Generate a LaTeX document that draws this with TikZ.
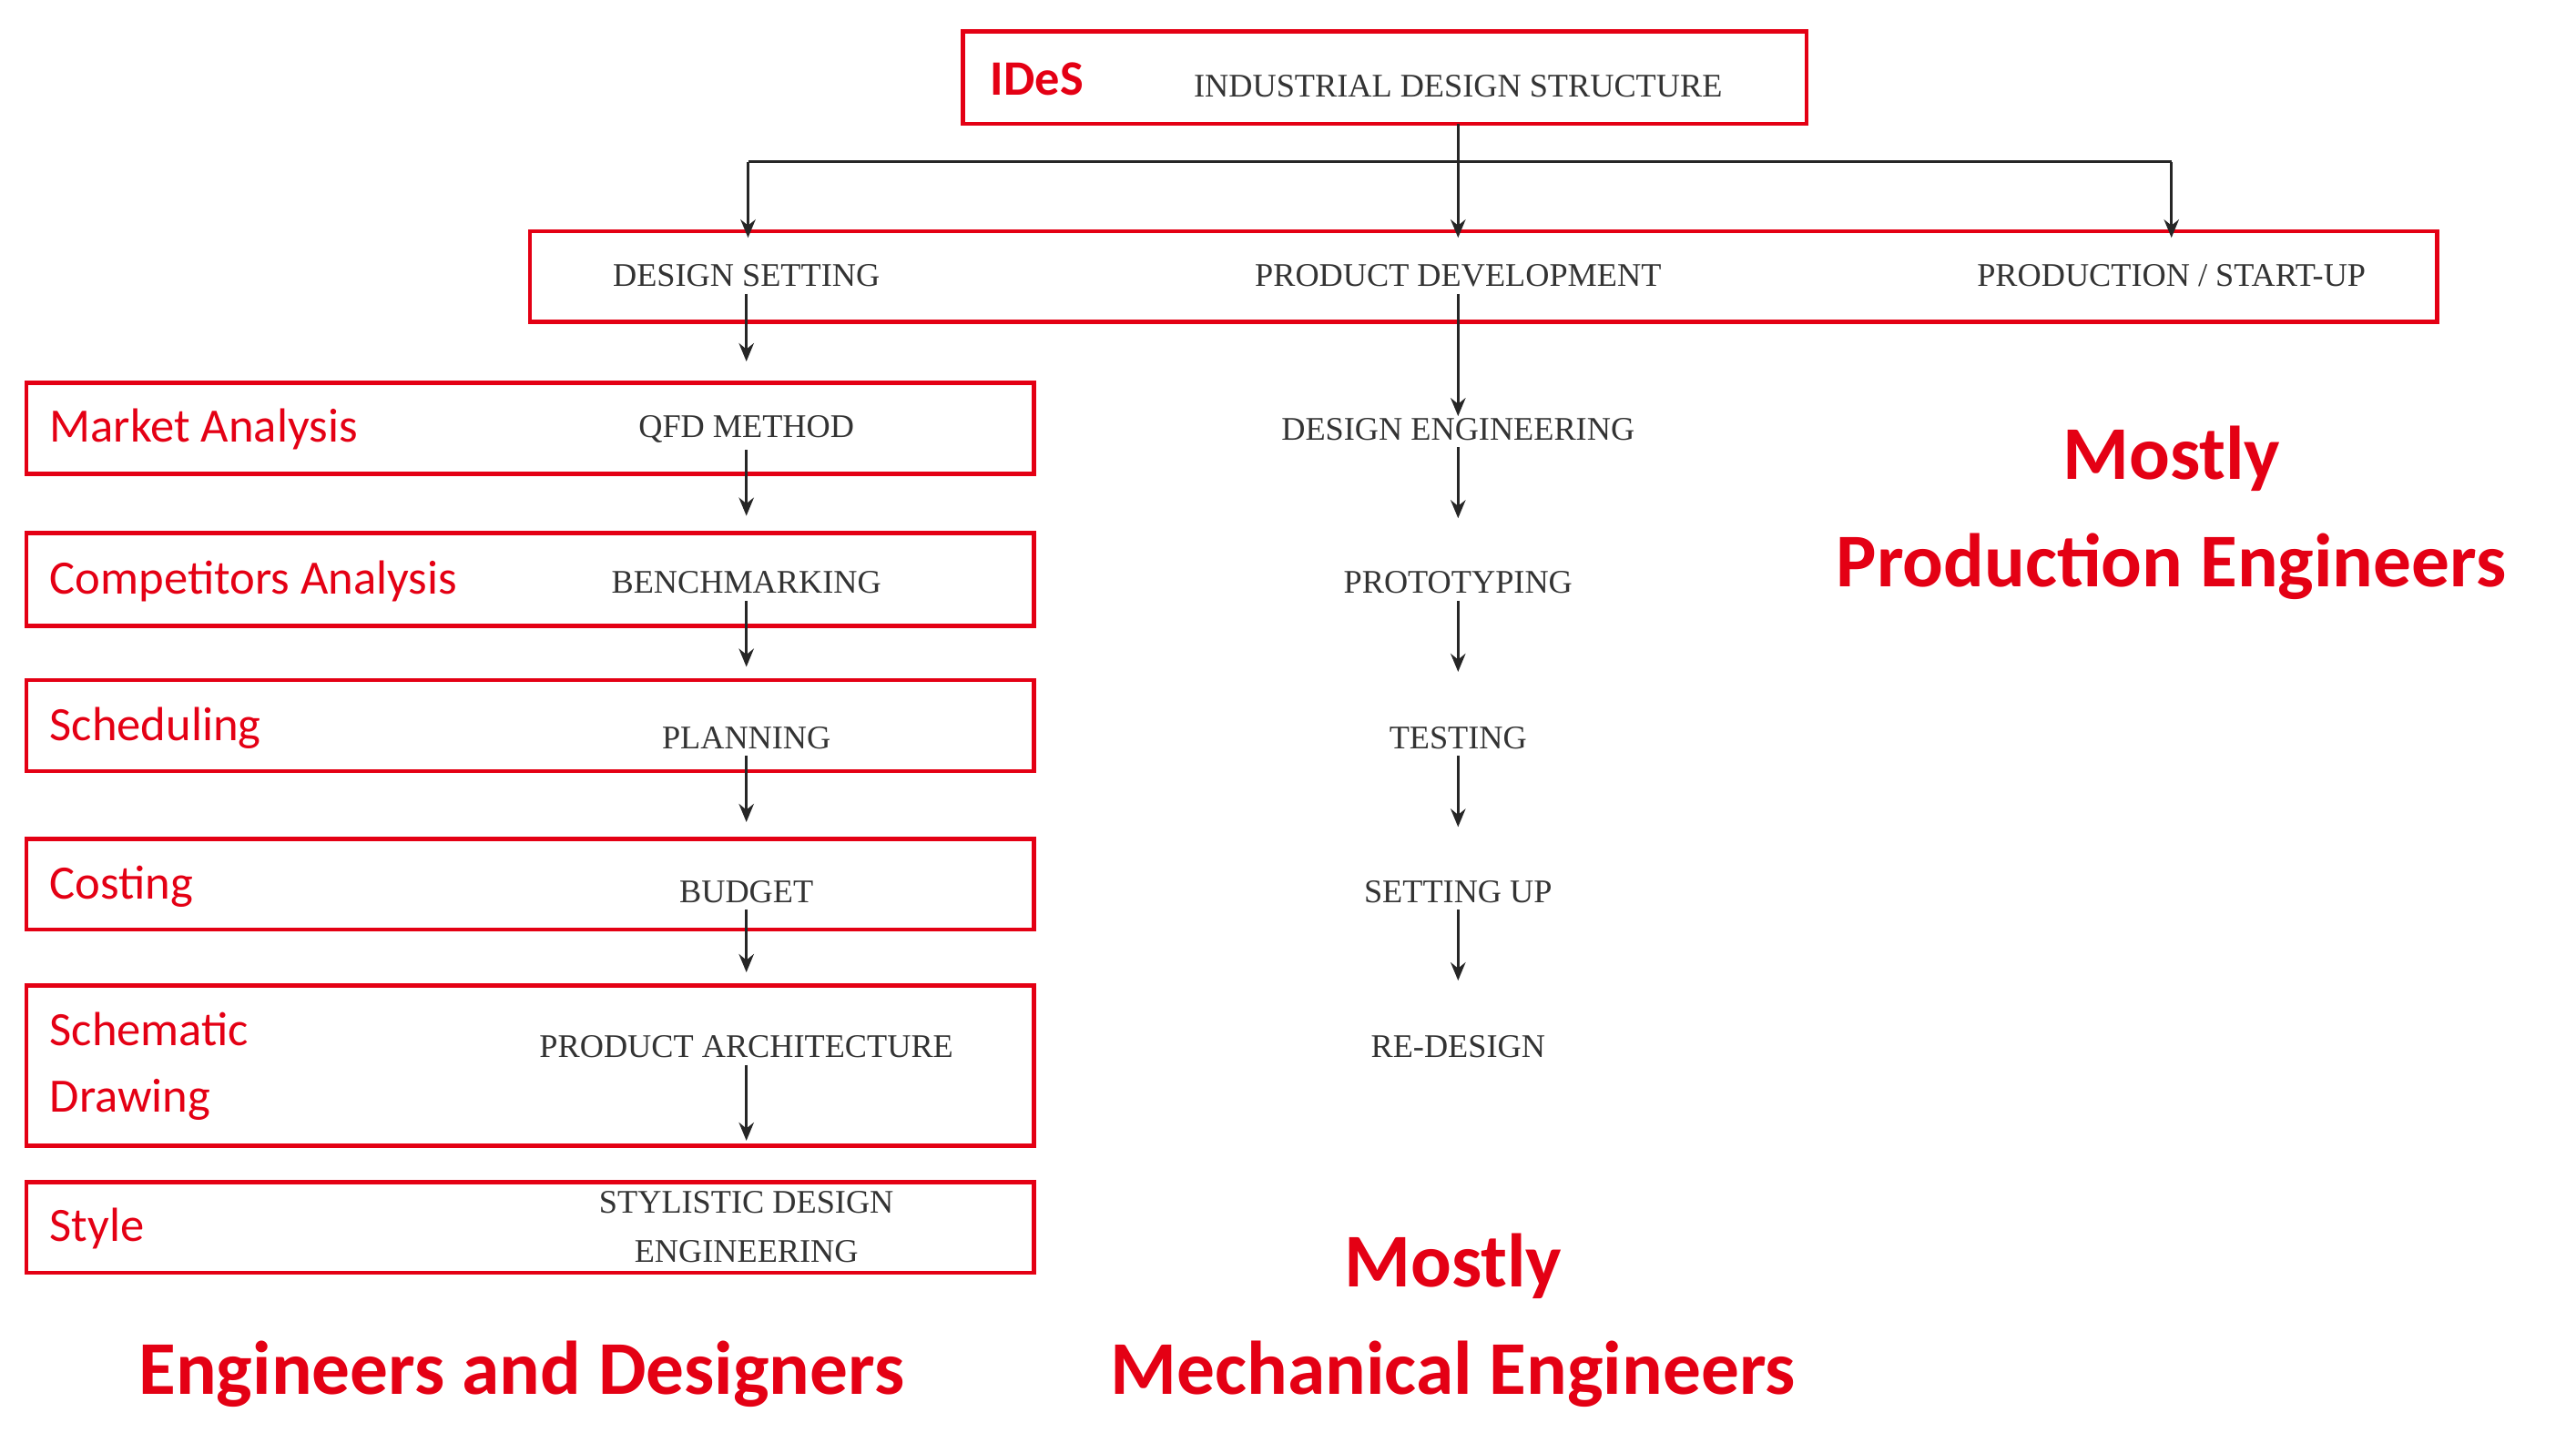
\documentclass[tikz,border=0pt]{standalone}
\usepackage{fontspec}
\setmainfont{Liberation Serif}
\newfontfamily\calfont{Carlito}
\usetikzlibrary{arrows.meta}
\definecolor{rd}{RGB}{228,0,20}
\tikzset{
 rbox/.style={draw=rd,line width=2.5pt},
 captxt/.style={font=\fontsize{20}{23}\selectfont,text=black!80,inner sep=1pt,align=center},
 lab/.style={font=\calfont\fontsize{29}{40}\selectfont,text=rd,anchor=west,inner sep=0pt,align=left},
 big/.style={font=\calfont\bfseries\fontsize{46}{50}\selectfont,text=rd,inner sep=0pt,draw=none},
 arr/.style={-{Stealth[length=11pt,width=9pt]},line width=1.8pt,black!85},
 ln/.style={line width=1.8pt,black!85}
}
\begin{document}
\begin{tikzpicture}[x=1pt,y=-1pt]
\useasboundingbox (0,0) rectangle (1560,873.5);
% top
\draw[rbox] (583,19) rectangle (1094,75);
\node[font=\calfont\bfseries\fontsize{30}{34}\selectfont,text=rd,inner sep=0] (ides) at (628,48) {IDeS};
\node[captxt] (ids) at (883,52) {INDUSTRIAL DESIGN STRUCTURE};
\draw[rbox] (321,140) rectangle (1476,195);
\node[captxt] (ds) at (452,167) {DESIGN SETTING};
\node[captxt] (pd) at (883,167) {PRODUCT DEVELOPMENT};
\node[captxt] (ps) at (1315,167) {PRODUCTION / START-UP};
\coordinate (t) at (883,75);
\coordinate (j) at (883,98);
\coordinate (jl) at (453,98);
\coordinate (jr) at (1315,98);
\coordinate (al) at (453,144);
\coordinate (am) at (883,144);
\coordinate (ar) at (1315,144);
\draw[ln] (jl) -- (jr);
\draw[arr] (jl) -- (al);
\draw[arr] (t) -- (am);
\draw[arr] (jr) -- (ar);
% left column
\foreach \a/\b in {232/287,323/379,412/467,508/563,597/694,716/771}
  \draw[rbox] (16,\a) rectangle (626,\b);
\node[lab] at (30,260) {Market Analysis};
\node[lab] at (30,352) {Competitors Analysis};
\node[lab] at (30,441) {Scheduling};
\node[lab] at (30,537) {Costing};
\node[lab] at (30,646) {Schematic\\Drawing};
\node[lab] at (30,744) {Style};
\node[captxt] (l1) at (452,260) {QFD METHOD};
\node[captxt] (l2) at (452,353) {BENCHMARKING};
\node[captxt] (l3) at (452,447) {PLANNING};
\node[captxt] (l4) at (452,540) {BUDGET};
\node[captxt] (l5) at (452,634) {PRODUCT ARCHITECTURE};
\node[captxt,font=\fontsize{20}{30}\selectfont] (l6) at (452,743) {STYLISTIC DESIGN\\ENGINEERING};
\draw[arr] (ds.south) ++(0,3) -- ++(0,41);
\draw[arr] (l1.south) ++(0,3) -- ++(0,40);
\draw[arr] (l2.south) ++(0,3) -- ++(0,40);
\draw[arr] (l3.south) ++(0,3) -- ++(0,40);
\draw[arr] (l4.south) ++(0,3) -- ++(0,38);
\draw[arr] (l5.south) ++(0,3) -- ++(0,46);
% middle column
\node[captxt] (m1) at (883,260) {DESIGN ENGINEERING};
\node[captxt] (m2) at (883,353) {PROTOTYPING};
\node[captxt] (m3) at (883,447) {TESTING};
\node[captxt] (m4) at (883,540) {SETTING UP};
\node[captxt] (m5) at (883,634) {RE-DESIGN};
\draw[arr] (pd.south) ++(0,3) -- (m1.north);
\draw[arr] (m1.south) ++(0,3) -- ++(0,43);
\draw[arr] (m2.south) ++(0,3) -- ++(0,43);
\draw[arr] (m3.south) ++(0,3) -- ++(0,43);
\draw[arr] (m4.south) ++(0,3) -- ++(0,43);
% big labels
\node[big] at (1315,278) {Mostly};
\node[big] at (1315,343) {Production Engineers};
\node[big] at (880,767) {Mostly};
\node[big] at (880,832) {Mechanical Engineers};
\node[big] at (316,832) {Engineers and Designers};
\end{tikzpicture}
\end{document}
